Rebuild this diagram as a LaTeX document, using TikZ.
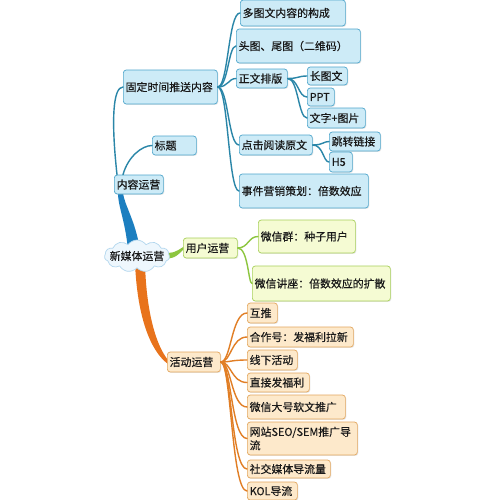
\documentclass[tikz,border=0pt]{standalone}
\usepackage{fontspec}
\setmainfont{Noto Sans CJK SC}[FakeBold=0.35]
\usepackage{tikz}
\usetikzlibrary{shapes.symbols, positioning, calc, backgrounds, shadows}
\usepackage{xcolor}

\definecolor{bluefill}{HTML}{CDEBF7}
\definecolor{bluedraw}{HTML}{4FA6CC}
\definecolor{blueline}{HTML}{2A86A8}
\definecolor{bluebranch}{HTML}{1C7FC0}
\definecolor{greenfill}{HTML}{F5FBD3}
\definecolor{greendraw}{HTML}{A8D05A}
\definecolor{greenline}{HTML}{8DC63F}
\definecolor{orangefill}{HTML}{FDE9CB}
\definecolor{orangedraw}{HTML}{E3A75F}
\definecolor{orangeline}{HTML}{E17E25}
\definecolor{orangebranch}{HTML}{E8731C}
\definecolor{cloudfill}{HTML}{EEF7FD}
\definecolor{clouddraw}{HTML}{B3D7EE}

\begin{document}
\begin{tikzpicture}[
    x=0.03cm, y=-0.03cm,
    font=\fontsize{9.3pt}{11.5pt}\selectfont,
    box/.style = {rectangle, rounded corners=2.5pt, line width=0.6pt, anchor=west, inner xsep=2pt, inner ysep=1pt, align=left, text=black!90, drop shadow={opacity=0.18, shadow xshift=0.8pt, shadow yshift=-0.8pt}},
    bluebox/.style = {box, draw=bluedraw, fill=bluefill},
    greenbox/.style = {box, draw=greendraw, fill=greenfill},
    orangebox/.style = {box, draw=orangedraw, fill=orangefill},
    link/.style = {to path={.. controls ([xshift=9pt]\tikztostart) and ([xshift=9pt]\tikztostart |- \tikztotarget) .. (\tikztotarget)}},
    blueedge/.style = {draw=blueline, line width=1.2pt, line cap=round},
    greenedge/.style = {draw=greenline, line width=1.2pt, line cap=round},
    orangeedge/.style = {draw=orangeline, line width=1.2pt, line cap=round}
]
    \useasboundingbox (0,0) rectangle (500,500);

    % 1. Central cloud
    \node [cloud, cloud puffs=11, cloud puff arc=110, cloud ignores aspect, draw=clouddraw, fill=cloudfill, line width=0.6pt, minimum width=1.95cm, minimum height=0.96cm, inner sep=0pt, label={[text=black!90]center:新媒体运营}] (root) at (137,256) {};

    % 2. Content branch (blue)
    \node [bluebox, text width=1.33cm, minimum height=0.57cm] (content) at (114,184.5) {内容运营};
    \node [bluebox, text width=2.68cm, minimum height=1.02cm] (push) at (123,87) {固定时间推送内容};
    \node [bluebox, text width=1.18cm, minimum height=0.57cm] (title) at (152,145.5) {标题};

    \node [bluebox, text width=3.01cm, minimum height=0.78cm] (multi) at (240,13) {多图文内容的构成};
    \node [bluebox, text width=3.58cm, minimum height=1.02cm] (headtail) at (236,46) {头图、尾图（二维码）};
    \node [bluebox, text width=1.39cm, minimum height=0.57cm] (layout) at (236,78.5) {正文排版};
    \node [bluebox, text width=2.05cm, minimum height=0.60cm] (readmore) at (239,145) {点击阅读原文};
    \node [bluebox, text width=3.73cm, minimum height=1.02cm] (event) at (239,191) {事件营销策划：倍数效应};

    \node [bluebox, text width=1.06cm, minimum height=0.54cm] (longimg) at (307,76) {长图文};
    \node [bluebox, text width=0.67cm, minimum height=0.54cm] (ppt) at (307,97) {PPT};
    \node [bluebox, text width=1.60cm, minimum height=0.60cm] (textimg) at (307,118) {文字+图片};
    \node [bluebox, text width=1.39cm, minimum height=0.57cm] (jump) at (329,141.5) {跳转链接};
    \node [bluebox, text width=0.55cm, minimum height=0.60cm] (hfive) at (329,162) {H5};

    % 3. User branch (green)
    \node [greenbox, text width=1.48cm, minimum height=0.60cm] (user) at (183,248) {用户运营};
    \node [greenbox, text width=2.77cm, minimum height=0.99cm] (group) at (258,236.5) {微信群：种子用户};
    \node [greenbox, text width=4.00cm, minimum height=1.05cm] (lecture) at (252,283.5) {微信讲座：倍数效应的扩散};

    % 4. Activity branch (orange)
    \node [orangebox, text width=1.45cm, minimum height=0.60cm] (activity) at (167,362) {活动运营};
    \node [orangebox, text width=0.76cm, minimum height=0.60cm] (mutual) at (247,313) {互推};
    \node [orangebox, text width=3.04cm, minimum height=0.60cm] (partner) at (247,337) {合作号：发福利拉新};
    \node [orangebox, text width=1.36cm, minimum height=0.60cm] (offline) at (247,360) {线下活动};
    \node [orangebox, text width=1.72cm, minimum height=0.57cm] (gift) at (247,382.5) {直接发福利};
    \node [orangebox, text width=2.80cm, minimum height=0.72cm] (bigacc) at (247,407) {微信大号软文推广};
    \node [orangebox, text width=3.16cm, minimum height=0.99cm] (seo) at (247,438.5) {网站SEO/SEM推广导\\流};
    \node [orangebox, text width=2.35cm, minimum height=0.54cm] (social) at (247,469) {社交媒体导流量};
    \node [orangebox, text width=1.36cm, minimum height=0.54cm] (kol) at (247,491) {KOL导流};

    % 5. Tapered main branches, behind the boxes
    \begin{scope}[on background layer]
        \fill [white] (0,0) rectangle (500,500);
        \fill [bluebranch] ($(root.north)+(-9,10)$) .. controls ($(root.north)+(-12,-20)$) and ($(content.south west)+(4,12)$) .. ($(content.south west)+(4,-1)$)
            -- ($(content.south west)+(9,-1)$) .. controls ($(content.south west)+(11,12)$) and ($(root.north)+(-2,-20)$) .. ($(root.north)+(3,10)$) -- cycle;
        \fill [orangebranch] ($(root.south)+(-2,-6)$) .. controls ($(root.south)+(0,45)$) and ($(activity.west)+(-18,-12)$) .. ($(activity.west)+(1,2)$)
            -- ($(activity.west)+(1,-2)$) .. controls ($(activity.west)+(-12,-18)$) and ($(root.south)+(9,40)$) .. ($(root.south)+(8,-6)$) -- cycle;
        \fill [greenline] ($(root.east)+(-8,-3)$) .. controls ($(root.east)+(4,-3)$) .. ($(user.west)+(1,-1.5)$)
            -- ($(user.west)+(1,1)$) .. controls ($(root.east)+(5,2)$) .. ($(root.east)+(-8,3)$) -- cycle;
    \end{scope}

    % 6. Thin connectors
    \draw [blueedge] ($(content.north west)+(3,0)$) .. controls ($(content.north west)+(-3,-55)$) and ($(push.west)+(-10,0)$) .. (push.west);
    \draw [blueedge] ($(content.north west)+(9,0)$) .. controls ($(content.north west)+(14,-18)$) and ($(title.west)+(-10,0)$) .. (title.west);

    \foreach \child in {multi, headtail, layout, readmore, event}
        \draw [blueedge] (push.east) to[link] (\child.west);
    \foreach \child in {longimg, ppt, textimg}
        \draw [blueedge] (layout.east) to[link] (\child.west);
    \foreach \child in {jump, hfive}
        \draw [blueedge] (readmore.east) to[link] (\child.west);

    \foreach \child in {group, lecture}
        \draw [greenedge] (user.east) to[link] (\child.west);

    \foreach \child in {mutual, partner, offline, gift, bigacc, seo, social, kol}
        \draw [orangeedge] (activity.east) to[link] (\child.west);
\end{tikzpicture}
\end{document}
